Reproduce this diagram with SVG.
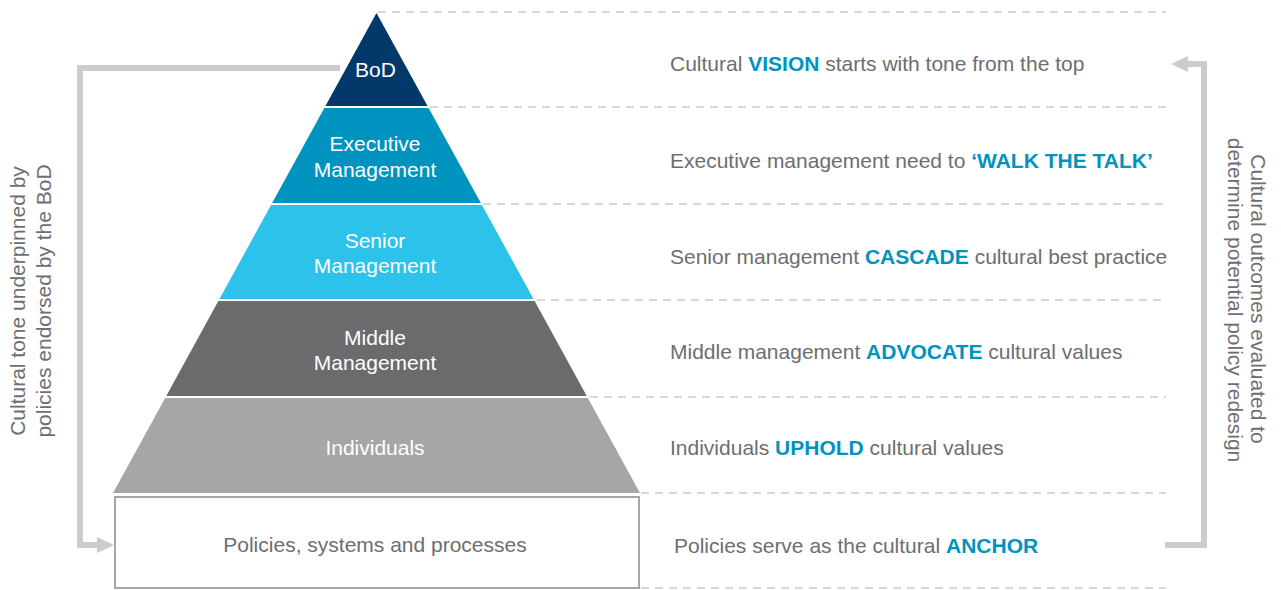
<svg xmlns="http://www.w3.org/2000/svg" width="1281" height="590" viewBox="0 0 1281 590">
<style>
.t{font-family:"Liberation Sans",Arial,sans-serif;font-size:21px;fill:#6D6E71}
.w{font-family:"Liberation Sans",Arial,sans-serif;font-size:21px;fill:#FFFFFF;text-anchor:middle}
.b{font-weight:bold;fill:#0093BF}
.dash{stroke:#CCCCCC;stroke-width:1.5;stroke-dasharray:8,6;fill:none}
.conn{stroke:#CCCCCC;stroke-width:6;fill:none}
.sep{stroke:#FFFFFF;stroke-width:2}
</style>
<rect width="1281" height="590" fill="#FFFFFF"/>
<g id="guides">
<line class="dash" x1="378" y1="12" x2="1166" y2="12"/>
<line class="dash" x1="430" y1="107" x2="1166" y2="107"/>
<line class="dash" x1="483" y1="204" x2="1166" y2="204"/>
<line class="dash" x1="537" y1="300" x2="1166" y2="300"/>
<line class="dash" x1="590" y1="397" x2="1166" y2="397"/>
<line class="dash" x1="641" y1="493" x2="1166" y2="493"/>
<line class="dash" x1="641" y1="588" x2="1166" y2="588"/>
</g>
<g id="connectors">
<polyline class="conn" points="340,68 80,68 80,545 99,545"/>
<polygon points="114,545 97,537 97,553" fill="#CCCCCC"/>
<polyline class="conn" points="1165,545 1204,545 1204,64 1186,64"/>
<polygon points="1171,64 1188,56 1188,72" fill="#CCCCCC"/>
</g>
<g id="bod">
<polygon points="376.5,13 428.1,107 324.9,107" fill="#03386B"/>
<text class="w" x="375.5" y="77">BoD</text>
</g>
<g id="executive">
<polygon points="324.9,107 428.1,107 481.4,204 271.6,204" fill="#0093BF"/>
<text class="w" x="375" y="151">Executive</text>
<text class="w" x="375" y="177">Management</text>
</g>
<g id="senior">
<polygon points="271.6,204 481.4,204 534.1,300 218.9,300" fill="#2CC2EA"/>
<text class="w" x="375" y="248">Senior</text>
<text class="w" x="375" y="273">Management</text>
</g>
<g id="middle">
<polygon points="218.9,300 534.1,300 587.3,397 165.7,397" fill="#6B6B6E"/>
<text class="w" x="375" y="345">Middle</text>
<text class="w" x="375" y="370">Management</text>
</g>
<g id="individuals">
<polygon points="165.7,397 587.3,397 640,493 113,493" fill="#A6A6A6"/>
<text class="w" x="375" y="455">Individuals</text>
</g>
<g id="separators">
<line class="sep" x1="323" y1="107" x2="430" y2="107"/>
<line class="sep" x1="270" y1="204" x2="483" y2="204"/>
<line class="sep" x1="217" y1="300" x2="536" y2="300"/>
<line class="sep" x1="164" y1="397" x2="589" y2="397"/>
</g>
<g id="policies">
<rect x="115" y="497" width="524" height="91" fill="#FFFFFF" stroke="#A6A6A6" stroke-width="2"/>
<text class="t" x="375" y="552" text-anchor="middle">Policies, systems and processes</text>
</g>
<g id="labels">
<text class="t" x="670" y="71">Cultural <tspan class="b">VISION</tspan> starts with tone from the top</text>
<text class="t" x="670" y="168">Executive management need to <tspan class="b">‘WALK THE TALK’</tspan></text>
<text class="t" x="670" y="264">Senior management <tspan class="b">CASCADE</tspan> cultural best practice</text>
<text class="t" x="670" y="359">Middle management <tspan class="b">ADVOCATE</tspan> cultural values</text>
<text class="t" x="670" y="455">Individuals <tspan class="b">UPHOLD</tspan> cultural values</text>
<text class="t" x="674" y="553">Policies serve as the cultural <tspan class="b">ANCHOR</tspan></text>
</g>
<g id="side-left">
<text class="t" text-anchor="middle" transform="translate(25,301) rotate(-90)">Cultural tone underpinned by</text>
<text class="t" text-anchor="middle" transform="translate(51,301) rotate(-90)">policies endorsed by the BoD</text>
</g>
<g id="side-right">
<text class="t" text-anchor="middle" transform="translate(1251,299) rotate(90)">Cultural outcomes evaluated to</text>
<text class="t" text-anchor="middle" transform="translate(1228,300) rotate(90)">determine potential policy redesign</text>
</g>
</svg>
